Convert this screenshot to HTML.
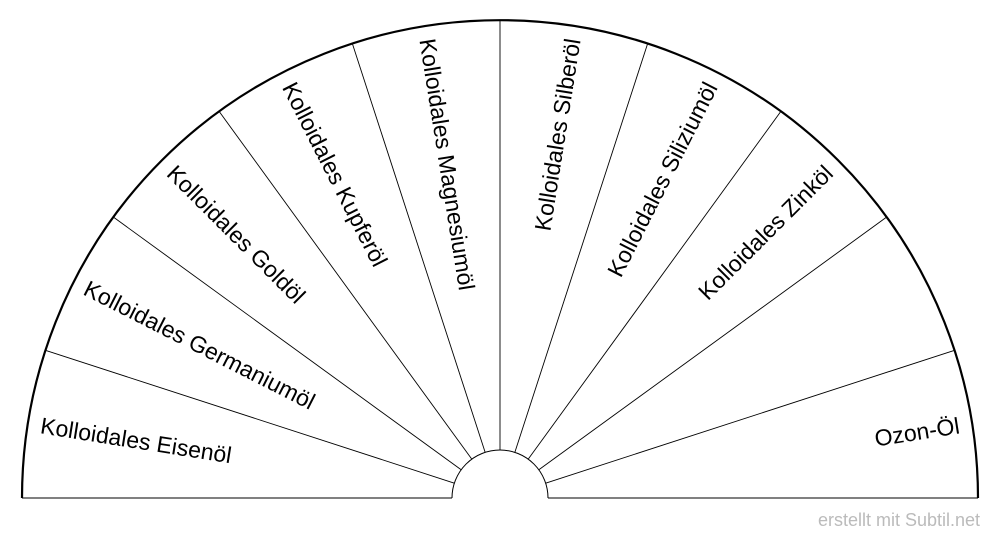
<!DOCTYPE html>
<html><head><meta charset="utf-8"><style>
html,body{margin:0;padding:0;background:#fff;}
svg{display:block;}
text{font-family:"Liberation Sans",sans-serif;}
</style></head><body>
<svg width="1000" height="540" viewBox="0 0 1000 540" xmlns="http://www.w3.org/2000/svg">
<rect width="1000" height="540" fill="#fff"/>
<g stroke="#000" fill="none">
<path d="M22,498 A478,478 0 0 1 978,498" stroke-width="2.2"/>
<path d="M452,498 A48,48 0 0 1 548,498" stroke-width="1"/>
<line x1="22" y1="498" x2="452" y2="498" stroke-width="1"/>
<line x1="548" y1="498" x2="978" y2="498" stroke-width="1"/>
<g stroke-width="0.9" transform="translate(500,498)">
<line x1="-48" y1="0" x2="-478" y2="0" transform="rotate(18)"/>
<line x1="-48" y1="0" x2="-478" y2="0" transform="rotate(36)"/>
<line x1="-48" y1="0" x2="-478" y2="0" transform="rotate(54)"/>
<line x1="-48" y1="0" x2="-478" y2="0" transform="rotate(72)"/>
<line x1="-48" y1="0" x2="-478" y2="0" transform="rotate(90)"/>
<line x1="-48" y1="0" x2="-478" y2="0" transform="rotate(108)"/>
<line x1="-48" y1="0" x2="-478" y2="0" transform="rotate(126)"/>
<line x1="-48" y1="0" x2="-478" y2="0" transform="rotate(144)"/>
<line x1="-48" y1="0" x2="-478" y2="0" transform="rotate(162)"/>
</g>
</g>
<g font-size="23" fill="#000" transform="translate(500,498)">
<text x="-465" y="8" transform="rotate(9)">Kolloidales Eisenöl</text>
<text x="-465" y="8" transform="rotate(27)">Kolloidales Germaniumöl</text>
<text x="-465" y="8" transform="rotate(45)">Kolloidales Goldöl</text>
<text x="-465" y="8" transform="rotate(63)">Kolloidales Kupferöl</text>
<text x="-465" y="8" transform="rotate(81)">Kolloidales Magnesiumöl</text>
<text x="465" y="8" text-anchor="end" transform="rotate(-81)">Kolloidales Silberöl</text>
<text x="465" y="8" text-anchor="end" transform="rotate(-63)">Kolloidales Siliziumöl</text>
<text x="465" y="8" text-anchor="end" transform="rotate(-45)">Kolloidales Zinköl</text>
<text x="465" y="8" text-anchor="end" transform="rotate(-9)">Ozon-Öl</text>
</g>
<text x="980" y="526" text-anchor="end" font-size="18" fill="#bbb">erstellt mit Subtil.net</text>
</svg>
</body></html>
